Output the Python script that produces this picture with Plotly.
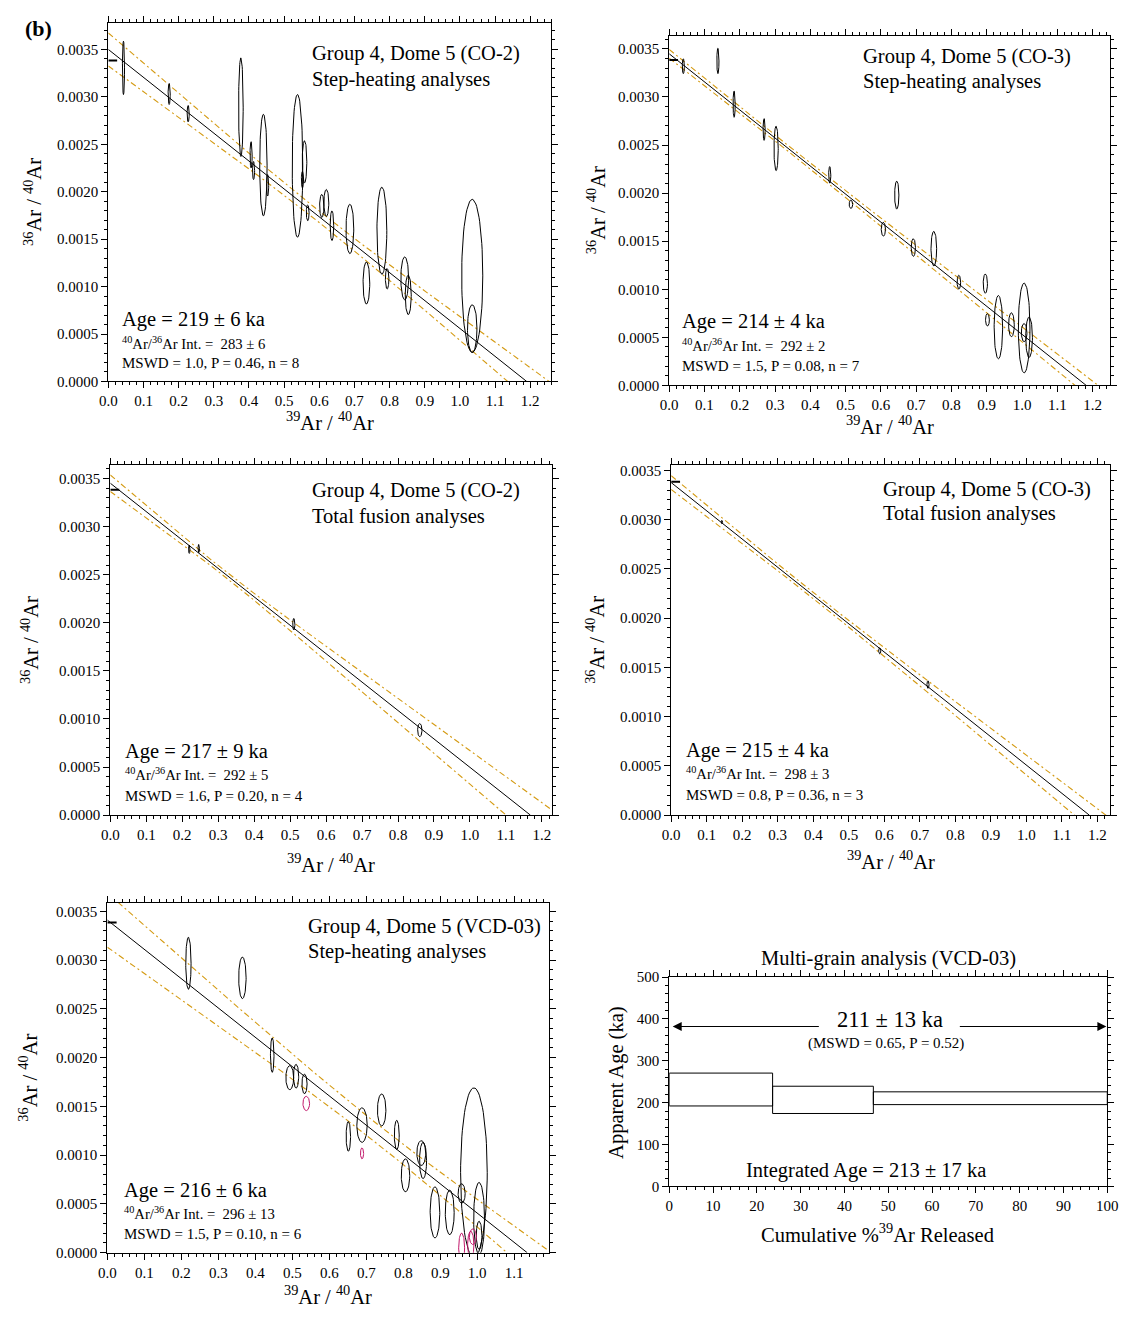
import numpy as np
import plotly.graph_objects as go

PAGE_W, PAGE_H = 1134, 1323
OFF = 8                      # default body margin of the html page
W, H = PAGE_W - OFF, PAGE_H - 2 * OFF
FONT = "Liberation Serif"
GOLD = "#D49A12"

# ---------------- data ----------------
# Panel 1: Group 4, Dome 5 (CO-2) step heating
co2s_x = [0.043, 0.173, 0.227, 0.377, 0.406, 0.413, 0.441, 0.453, 0.538, 0.558, 0.552, 0.567,
          0.607, 0.620, 0.636, 0.687, 0.734, 0.778, 0.793, 0.843, 0.853, 1.035, 1.035]
co2s_y = [0.003306, 0.003031, 0.002823, 0.002892, 0.002389, 0.002224, 0.002281, 0.002068, 0.002273,
          0.002316, 0.002128, 0.001778, 0.001850, 0.001882, 0.001642, 0.001608, 0.001038, 0.001589,
          0.001083, 0.001087, 0.000913, 0.001113, 0.000557]
co2s_dx = [0.003, 0.003, 0.003, 0.0065, 0.003, 0.003, 0.0105, 0.003, 0.015, 0.0065, 0.003, 0.004,
           0.006, 0.007, 0.005, 0.011, 0.0095, 0.014, 0.005, 0.011, 0.0085, 0.030, 0.0135]
co2s_dy = [0.000281, 0.000111, 0.000087, 0.000520, 0.000139, 0.000095, 0.000535, 0.000113, 0.000752,
           0.000222, 0.000087, 0.000083, 0.000122, 0.000142, 0.000156, 0.000260, 0.000222, 0.000460,
           0.000108, 0.000226, 0.000208, 0.000807, 0.000252]
co2s_fit = [0.00350, 1.19]            # y-intercept, x-intercept
co2s_env = [0.000174, 0.00006, 0.60]  # half-width at x=0, minimum half-width, x of minimum

# Panel 2: Group 4, Dome 5 (CO-3) step heating
co3s_x = [0.040, 0.138, 0.184, 0.269, 0.303, 0.455, 0.515, 0.645, 0.607, 0.692, 0.750, 0.821,
          0.896, 0.902, 0.933, 0.970, 1.006, 1.006, 1.020]
co3s_y = [0.003320, 0.003375, 0.002926, 0.002662, 0.002465, 0.002190, 0.001884, 0.001980, 0.001625,
          0.001434, 0.001422, 0.001074, 0.001059, 0.000682, 0.000606, 0.000631, 0.000597, 0.000549,
          0.000501]
co3s_dx = [0.003, 0.003, 0.003, 0.003, 0.006, 0.003, 0.005, 0.006, 0.006, 0.006, 0.008, 0.005,
           0.006, 0.0055, 0.012, 0.008, 0.0165, 0.008, 0.0095]
co3s_dy = [0.000077, 0.000132, 0.000137, 0.000113, 0.000231, 0.000086, 0.000043, 0.000145, 0.000072,
           0.000092, 0.000180, 0.000072, 0.000100, 0.000064, 0.000329, 0.000125, 0.000467, 0.000094,
           0.000210]
co3s_fit = [0.003449, 1.182]
co3s_env = [0.000045, 0.00003, 0.32]

# Panel 3: Group 4, Dome 5 (CO-2) total fusion
co2f_x = [0.2195, 0.2459, 0.5102, 0.8605]
co2f_y = [0.002765, 0.002772, 0.001985, 0.000884]
co2f_dx = [0.002, 0.002, 0.003, 0.006]
co2f_dy = [0.000043, 0.000043, 0.000060, 0.000069]
co2f_fit = [0.003452, 1.168]
co2f_env = [0.000086, 0.00003, 0.32]

# Panel 4: Group 4, Dome 5 (CO-3) total fusion
co3f_x = [0.1428, 0.5871, 0.7230]
co3f_y = [0.002975, 0.001668, 0.001325]
co3f_dx = [0.002, 0.003, 0.003]
co3f_dy = [0.000017, 0.000030, 0.000038]
co3f_fit = [0.003376, 1.177]
co3f_env = [0.00007, 0.00003, 0.40]

# Panel 5: Group 4, Dome 5 (VCD-03) step heating
vcd_x = [0.2191, 0.3651, 0.4457, 0.4931, 0.5102, 0.5330, 0.6515, 0.6885, 0.7416, 0.7824,
         0.8060, 0.8487, 0.8535, 0.8857, 0.9256, 0.9578, 0.9910, 1.0050, 1.0050]
vcd_y = [0.002967, 0.002818, 0.002025, 0.001794, 0.001809, 0.001730, 0.001192, 0.001308, 0.001463,
         0.001207, 0.000793, 0.001021, 0.000945, 0.000413, 0.000413, 0.000607, 0.000820, 0.000350,
         0.000177]
vcd_dx = [0.0072, 0.010, 0.0048, 0.0105, 0.007, 0.007, 0.006, 0.014, 0.0114, 0.0066,
          0.0114, 0.012, 0.0095, 0.013, 0.012, 0.0095, 0.036, 0.0147, 0.0076]
vcd_dy = [0.000267, 0.000213, 0.000176, 0.000123, 0.000122, 0.000100, 0.000152, 0.000177, 0.000164,
          0.000150, 0.000169, 0.000127, 0.000186, 0.000262, 0.000228, 0.000100, 0.000870, 0.000370,
          0.000145]
vcd_rej_x = [0.5377, 0.6885, 0.9578, 0.9825, 0.9882]
vcd_rej_y = [0.001530, 0.001018, 0.000050, 0.000080, 0.000164]
vcd_rej_dx = [0.009, 0.0043, 0.008, 0.0085, 0.0095]
vcd_rej_dy = [0.000073, 0.000056, 0.000150, 0.000140, 0.000080]
vcd_fit = [0.003410, 1.135]
vcd_env = [0.000278, 0.0001, 0.726]

ATM_RATIO = 295.5  # atmospheric 40Ar/36Ar

# Panel 6: age spectrum (VCD-03)
spec_edges = [0, 23.6, 46.6, 100]
spec_lo = [192.3, 174.3, 195.5]
spec_hi = [270.8, 239.4, 226.0]

# ---------------- layout geometry (page pixels) ----------------
# left, right, top, bottom
boxes = [
    (101, 552, 15, 378),
    (672, 1121, 28, 382),
    (103, 553, 463, 817),
    (674, 1121, 463, 817),
    (100, 550, 906, 1260),
    (672, 1118, 981, 1193),
]
xranges = [[0, 1.26], [0, 1.25], [0, 1.229], [0, 1.236], [0, 1.195], [0, 100]]
yranges = [[0, 0.00378], [0, 0.003637], [0, 0.003637], [0, 0.00355], [0, 0.003585], [0, 500]]


def fx(px):
    return (px - OFF) / W


def fy(py):
    return 1 - (py - OFF) / H


fig = go.Figure()


def ell_path(xs, ys, dxs, dys):
    t = np.linspace(0, 2 * np.pi, 73)
    px, py = [], []
    for x, y, dx, dy in zip(xs, ys, dxs, dys):
        px += list(x + dx * np.cos(t)) + [None]
        py += list(y + dy * np.sin(t)) + [None]
    return px, py


panels = [
    (co2s_x, co2s_y, co2s_dx, co2s_dy, co2s_fit, co2s_env),
    (co3s_x, co3s_y, co3s_dx, co3s_dy, co3s_fit, co3s_env),
    (co2f_x, co2f_y, co2f_dx, co2f_dy, co2f_fit, co2f_env),
    (co3f_x, co3f_y, co3f_dx, co3f_dy, co3f_fit, co3f_env),
    (vcd_x, vcd_y, vcd_dx, vcd_dy, vcd_fit, vcd_env),
]

for i, (ex, ey, edx, edy, fit, env) in enumerate(panels):
    n = i + 1
    xa = "x" if n == 1 else f"x{n}"
    ya = "y" if n == 1 else f"y{n}"
    xs = np.linspace(0, xranges[i][1], 200)
    yint, xint = fit
    line = yint * (1 - xs / xint)
    w0, wmin, xc = env
    w = np.sqrt(wmin ** 2 + (w0 ** 2 - wmin ** 2) * ((xs - xc) / xc) ** 2)
    for sgn in (1, -1):
        fig.add_trace(go.Scatter(x=xs, y=line + sgn * w, mode="lines", xaxis=xa, yaxis=ya,
                                 line=dict(color=GOLD, width=1.1, dash="6px,3px,2px,3px"),
                                 showlegend=False, hoverinfo="skip"))
    fig.add_trace(go.Scatter(x=[0, xint], y=[yint, 0], mode="lines", xaxis=xa, yaxis=ya,
                             line=dict(color="black", width=1), showlegend=False))
    fig.add_trace(go.Scatter(x=[0, 0.025], y=[1 / ATM_RATIO, 1 / ATM_RATIO], mode="lines",
                             xaxis=xa, yaxis=ya, line=dict(color="black", width=2),
                             showlegend=False))
    px, py = ell_path(ex, ey, edx, edy)
    fig.add_trace(go.Scatter(x=px, y=py, mode="lines", xaxis=xa, yaxis=ya,
                             line=dict(color="black", width=1), showlegend=False))

px, py = ell_path(vcd_rej_x, vcd_rej_y, vcd_rej_dx, vcd_rej_dy)
fig.add_trace(go.Scatter(x=px, y=py, mode="lines", xaxis="x5", yaxis="y5",
                         line=dict(color="#C2186B", width=1), showlegend=False))

sx, sy = [], []
for k in range(len(spec_lo)):
    a, b = spec_edges[k], spec_edges[k + 1]
    sx += [a, b, b, a, a, None]
    sy += [spec_lo[k], spec_lo[k], spec_hi[k], spec_hi[k], spec_lo[k], None]
fig.add_trace(go.Scatter(x=sx, y=sy, mode="lines", xaxis="x6", yaxis="y6",
                         line=dict(color="black", width=1), showlegend=False))

# ---------------- axes ----------------
TICK = 15
layout = dict(width=W, height=H, margin=dict(l=0, r=0, t=0, b=0),
              paper_bgcolor="white", plot_bgcolor="white",
              font=dict(family=FONT, color="black", size=TICK), showlegend=False)

for i, (l, r, t, b) in enumerate(boxes):
    n = i + 1
    xk = "xaxis" if n == 1 else f"xaxis{n}"
    yk = "yaxis" if n == 1 else f"yaxis{n}"
    xa = "x" if n == 1 else f"x{n}"
    ya = "y" if n == 1 else f"y{n}"
    if n < 6:
        xd, xm, xf = 0.1, 0.02, ".1f"
        yd, ym, yf = 0.0005, 0.0001, ".4f"
    else:
        xd, xm, xf = 10, 2, "d"
        yd, ym, yf = 100, 20, "d"
    common = dict(showline=True, linecolor="black", linewidth=1, mirror="allticks",
                  ticks="outside", ticklen=6, tickwidth=1, tickcolor="black",
                  showgrid=False, zeroline=False,
                  tickfont=dict(family=FONT, size=TICK, color="black"))
    layout[xk] = dict(domain=[fx(l), fx(r)], range=xranges[i], anchor=ya,
                      dtick=xd, tick0=0, tickformat=xf,
                      minor=dict(dtick=xm, ticklen=3, ticks="outside", tickcolor="black"),
                      **common)
    layout[yk] = dict(domain=[fy(b), fy(t)], range=yranges[i], anchor=xa,
                      dtick=yd, tick0=0, tickformat=yf,
                      minor=dict(dtick=ym, ticklen=3, ticks="outside", tickcolor="black"),
                      **common)

fig.update_layout(**layout)

# ---------------- annotations ----------------
ann = []


def pap(text, px, py, size, angle=0, xanchor="center", bold=False):
    ann.append(dict(text=(f"<b>{text}</b>" if bold else text), x=fx(px), y=fy(py),
                    xref="paper", yref="paper", showarrow=False, textangle=angle,
                    xanchor=xanchor, yanchor="middle",
                    font=dict(family=FONT, size=size, color="black")))


def dat(text, n, x, y, size, xanchor="left"):
    xa = "x" if n == 1 else f"x{n}"
    ya = "y" if n == 1 else f"y{n}"
    ann.append(dict(text=text, x=x, y=y, xref=xa, yref=ya, showarrow=False,
                    xanchor=xanchor, yanchor="middle",
                    font=dict(family=FONT, size=size, color="black")))


pap("(b)", 30, 21, 22, bold=True)

xt = "<sup>39</sup>Ar / <sup>40</sup>Ar"
yt = "<sup>36</sup>Ar / <sup>40</sup>Ar"
for (l, r, t, b), (xy, yx) in zip(boxes[:5], [(418, 24), (422, 597), (865, 21), (862, 597), (1303, 19)]):
    pap(xt, (l + r) / 2, xy, 20.5)
    pap(yt, yx, (t + b) / 2, 20.5, angle=-90)

titles = [
    ("Group 4, Dome 5 (CO-2)", "Step-heating analyses", 0.574, 0.003455, 0.003188),
    ("Group 4, Dome 5 (CO-3)", "Step-heating analyses", 0.545, 0.003421, 0.003158),
    ("Group 4, Dome 5 (CO-2)", "Total fusion analyses", 0.556, 0.003373, 0.003110),
    ("Group 4, Dome 5 (CO-3)", "Total fusion analyses", 0.592, 0.003310, 0.003059),
    ("Group 4, Dome 5 (VCD-03)", "Step-heating analyses", 0.537, 0.003341, 0.003088),
]
stats = [
    ("Age = 219 ± 6 ka", "283 ± 6", "MSWD = 1.0, P = 0.46, n = 8", 0.033, 0.000653, 0.000410, 0.000191),
    ("Age = 214 ± 4 ka", "292 ± 2", "MSWD = 1.5, P = 0.08, n = 7", 0.030, 0.000660, 0.000421, 0.000198),
    ("Age = 217 ± 9 ka", "292 ± 5", "MSWD = 1.6, P = 0.20, n = 4", 0.036, 0.000661, 0.000428, 0.000199),
    ("Age = 215 ± 4 ka", "298 ± 3", "MSWD = 0.8, P = 0.36, n = 3", 0.035, 0.000652, 0.000425, 0.000207),
    ("Age = 216 ± 6 ka", "296 ± 13", "MSWD = 1.5, P = 0.10, n = 6", 0.040, 0.000641, 0.000405, 0.000192),
]
for k in range(5):
    t1, t2, tx, ty1, ty2 = titles[k]
    dat(t1, k + 1, tx, ty1, 20.5)
    dat(t2, k + 1, tx, ty2, 20.5)
    a, ir, m, sxp, y1, y2, y3 = stats[k]
    dat(a, k + 1, sxp, y1, 20.5)
    dat(f"<sup>40</sup>Ar/<sup>36</sup>Ar Int. =  {ir}", k + 1, sxp, y2, 14.7)
    dat(m, k + 1, sxp, y3, 15)

pap("Multi-grain analysis (VCD-03)", 895, 962, 20.5)
pap("Apparent Age (ka)", 619, 1088, 20.5, angle=-90)
pap("Cumulative %<sup>39</sup>Ar Released", 884, 1240, 20.5)
dat("211 ± 13 ka", 6, 50.5, 398, 22.5, xanchor="center")
dat("(MSWD = 0.65, P = 0.52)", 6, 49.5, 341, 15, xanchor="center")
dat("Integrated Age = 213 ± 17 ka", 6, 45, 38, 20.5, xanchor="center")
for tip, tail in [(0.8, 34.5), (99.8, 66.0)]:
    ann.append(dict(x=tip, y=382, ax=tail, ay=382, xref="x6", yref="y6", axref="x6", ayref="y6",
                    showarrow=True, arrowhead=2, arrowsize=1.8, arrowwidth=1, arrowcolor="black",
                    text=""))

fig.update_layout(annotations=ann)
fig.write_html("out.html")
